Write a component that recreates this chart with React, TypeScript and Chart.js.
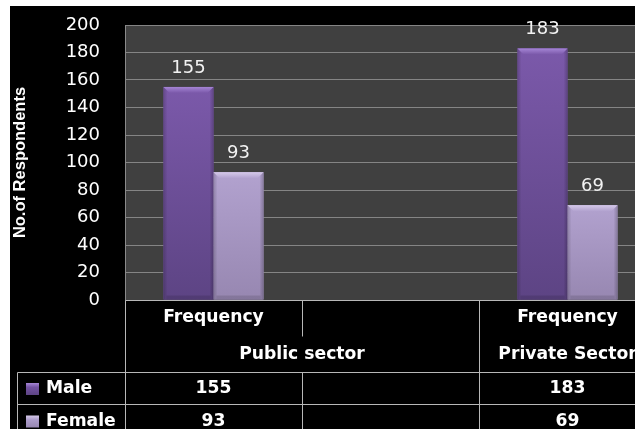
import React, { useEffect, useRef } from 'react';
import { Chart, registerables } from 'chart.js';

Chart.register(...registerables);

// ---- data ----
const categories = ['Frequency', '', 'Frequency'];
const groupLabels = ['Public sector', 'Private Sector'];
const groupSpans = [2, 1];
const seriesNames = ['Male', 'Female'];
const maleValues: (number | null)[] = [155, null, 183];
const femaleValues: (number | null)[] = [93, null, 69];
const yMin = 0;
const yMax = 200;
const yStep = 20;
const yAxisTitle = 'No.of Respondents';

// ---- styles ----
const seriesColors = [
  { top: '#7b59aa', bottom: '#5d4484', mid: '#6c4f98', bevel: '#a686d6', key: '#7453a3' },
  { top: '#b2a2cf', bottom: '#9787b1', mid: '#a595c0', bevel: '#d6caea', key: '#ad9dcb' },
];
const NUM_FONT = '18px "DejaVu Sans"';
const TABLE_FONT = 'bold 17.2px "DejaVu Sans"';
const LINE_COLOR = '#b8b8b8';

const plotBgPlugin = {
  id: 'plotBg',
  beforeDraw(chart: any) {
    const { ctx, chartArea: a, width, height } = chart;
    ctx.save();
    ctx.fillStyle = '#000';
    ctx.fillRect(0, 0, width, height);
    ctx.fillStyle = '#404040';
    ctx.fillRect(a.left, a.top, a.right - a.left, a.bottom - a.top);
    ctx.restore();
  },
};

const barStylePlugin = {
  id: 'barStyle',
  afterDatasetsDraw(chart: any) {
    const { ctx } = chart;
    ctx.save();
    chart.data.datasets.forEach((ds: any, di: number) => {
      const meta = chart.getDatasetMeta(di);
      const c = seriesColors[di];
      meta.data.forEach((el: any, i: number) => {
        const v = ds.data[i];
        if (v === null || v === undefined) return;
        const { x, y, base, width } = el.getProps(['x', 'y', 'base', 'width'], true);
        const l = x - width / 2;
        const r = x + width / 2;
        const h = base - y;
        const g = ctx.createLinearGradient(0, y, 0, base);
        g.addColorStop(0, c.top);
        g.addColorStop(1, c.bottom);
        ctx.fillStyle = g;
        ctx.fillRect(l, y, width, h);
        const sg = ctx.createLinearGradient(l, 0, r, 0);
        sg.addColorStop(0, 'rgba(0,0,0,0.18)');
        sg.addColorStop(0.08, 'rgba(0,0,0,0)');
        sg.addColorStop(0.92, 'rgba(0,0,0,0)');
        sg.addColorStop(1, 'rgba(0,0,0,0.22)');
        ctx.fillStyle = sg;
        ctx.fillRect(l, y, width, h);
        const b = 6;
        const bg = ctx.createLinearGradient(0, y, 0, y + b);
        bg.addColorStop(0, c.bevel);
        bg.addColorStop(1, c.top);
        ctx.fillStyle = bg;
        ctx.beginPath();
        ctx.moveTo(l, y);
        ctx.lineTo(r, y);
        ctx.lineTo(r - b, y + b);
        ctx.lineTo(l + b, y + b);
        ctx.closePath();
        ctx.fill();
        ctx.fillStyle = 'rgba(0,0,0,0.12)';
        ctx.fillRect(l + 3, base - 4, width - 6, 4);
      });
    });
    ctx.restore();
  },
};

const dataLabelPlugin = {
  id: 'dataLabels',
  afterDatasetsDraw(chart: any) {
    const { ctx } = chart;
    ctx.save();
    ctx.font = NUM_FONT;
    ctx.fillStyle = '#f2f2f2';
    ctx.textAlign = 'center';
    ctx.textBaseline = 'middle';
    chart.data.datasets.forEach((ds: any, di: number) => {
      const meta = chart.getDatasetMeta(di);
      meta.data.forEach((el: any, i: number) => {
        const v = ds.data[i];
        if (v === null || v === undefined) return;
        ctx.fillText(String(v), el.x, el.y - 19);
      });
    });
    ctx.restore();
  },
};

const yTitlePlugin = {
  id: 'yTitle',
  afterDraw(chart: any) {
    const { ctx, chartArea: a } = chart;
    ctx.save();
    ctx.font = 'bold 16.5px "Liberation Sans Narrow", "Liberation Sans", Arial, sans-serif';
    ctx.fillStyle = '#fff';
    ctx.textAlign = 'center';
    ctx.textBaseline = 'alphabetic';
    ctx.translate(15, (a.top + a.bottom) / 2);
    ctx.rotate(-Math.PI / 2);
    ctx.fillText(yAxisTitle, 0, 0);
    ctx.restore();
  },
};

const dataTablePlugin = {
  id: 'dataTable',
  afterDraw(chart: any) {
    const { ctx, chartArea: a } = chart;
    const xs = chart.scales.x;
    const n = categories.length;
    const cw = (a.right - a.left) / n;
    const edges: number[] = [];
    for (let i = 0; i <= n; i++) {
      if (i < n) edges.push(xs.getPixelForValue(i) - cw / 2);
      else edges.push(xs.getPixelForValue(n - 1) + cw / 2);
    }
    const top = a.bottom;
    const r1 = top + 36;
    const r2 = top + 72;
    const r3 = top + 104;
    const r4 = top + 137;
    const legendLeft = 7;

    const groupEdgeIdx = new Set<number>([0]);
    let acc = 0;
    groupSpans.forEach((s) => {
      acc += s;
      groupEdgeIdx.add(acc);
    });

    ctx.save();
    ctx.strokeStyle = LINE_COLOR;
    ctx.lineWidth = 1;
    const line = (x1: number, y1: number, x2: number, y2: number) => {
      ctx.beginPath();
      ctx.moveTo(Math.round(x1) + 0.5, Math.round(y1) + 0.5);
      ctx.lineTo(Math.round(x2) + 0.5, Math.round(y2) + 0.5);
      ctx.stroke();
    };
    line(edges[0], top, edges[n], top);
    line(legendLeft, r2, edges[n], r2);
    line(legendLeft, r3, edges[n], r3);
    line(legendLeft, r4, edges[n], r4);
    edges.forEach((ex, i) => {
      if (groupEdgeIdx.has(i)) {
        line(ex, top, ex, r4);
      } else {
        line(ex, top, ex, r1);
        line(ex, r2, ex, r4);
      }
    });
    line(legendLeft, r2, legendLeft, r4);

    ctx.fillStyle = '#fff';
    ctx.font = TABLE_FONT;
    ctx.textAlign = 'center';
    ctx.textBaseline = 'middle';
    categories.forEach((c, i) => {
      if (c) ctx.fillText(c, xs.getPixelForValue(i), (top + r1) / 2);
    });
    let start = 0;
    groupLabels.forEach((g, gi) => {
      const span = groupSpans[gi];
      const cx = (edges[start] + edges[start + span]) / 2;
      ctx.fillText(g, cx, (r1 + r2) / 2 + 1);
      start += span;
    });
    const rows = [maleValues, femaleValues];
    const rowTops = [r2, r3];
    const rowBots = [r3, r4];
    rows.forEach((vals, ri) => {
      const cy = (rowTops[ri] + rowBots[ri]) / 2 + 1;
      const c = seriesColors[ri];
      const kx = 16;
      const ky = cy - 6;
      const kg = ctx.createLinearGradient(0, ky, 0, ky + 12);
      kg.addColorStop(0, c.bevel);
      kg.addColorStop(0.35, c.key);
      kg.addColorStop(1, c.bottom);
      ctx.fillStyle = kg;
      ctx.fillRect(kx, ky, 13, 12);
      ctx.fillStyle = '#fff';
      ctx.textAlign = 'left';
      ctx.fillText(seriesNames[ri], 36, cy);
      ctx.textAlign = 'center';
      vals.forEach((v, i) => {
        if (v !== null && v !== undefined) ctx.fillText(String(v), xs.getPixelForValue(i), cy);
      });
    });
    ctx.restore();
  },
};

export default function App() {
  const ref = useRef<HTMLCanvasElement | null>(null);
  useEffect(() => {
    document.body.style.margin = '0';
    if (!ref.current) return;
    const chart = new Chart(ref.current, {
      type: 'bar',
      data: {
        labels: categories,
        datasets: [
          { label: seriesNames[0], data: maleValues, backgroundColor: seriesColors[0].mid, borderWidth: 0 },
          { label: seriesNames[1], data: femaleValues, backgroundColor: seriesColors[1].mid, borderWidth: 0 },
        ],
      },
      options: {
        responsive: false,
        animation: false,
        devicePixelRatio: 1,
        layout: { padding: { top: 19, right: 14, bottom: 146, left: 0 } },
        plugins: {
          legend: { display: false },
          tooltip: { enabled: false },
          title: { display: false },
        },
        datasets: { bar: { categoryPercentage: 0.565, barPercentage: 1 } },
        scales: {
          x: { display: false },
          y: {
            min: yMin,
            max: yMax,
            afterFit: (s: any) => {
              s.width = 115;
            },
            ticks: {
              stepSize: yStep,
              color: '#ffffff',
              font: { family: 'DejaVu Sans', size: 18 },
              padding: 0,
            },
            grid: { color: '#858585', lineWidth: 1, drawTicks: true, tickLength: 25, tickColor: 'rgba(0,0,0,0)' },
            border: { display: true, color: '#8a8a8a' },
            title: { display: false },
          },
        },
      },
      plugins: [plotBgPlugin, barStylePlugin, dataLabelPlugin, yTitlePlugin, dataTablePlugin],
    } as any);
    return () => chart.destroy();
  }, []);
  return (
    <div style={{ position: 'relative', width: 635, height: 429, overflow: 'hidden', background: '#fff' }}>
      <canvas ref={ref} width={660} height={440} style={{ position: 'absolute', left: 10, top: 6, width: 660, height: 440 }} />
    </div>
  );
}
